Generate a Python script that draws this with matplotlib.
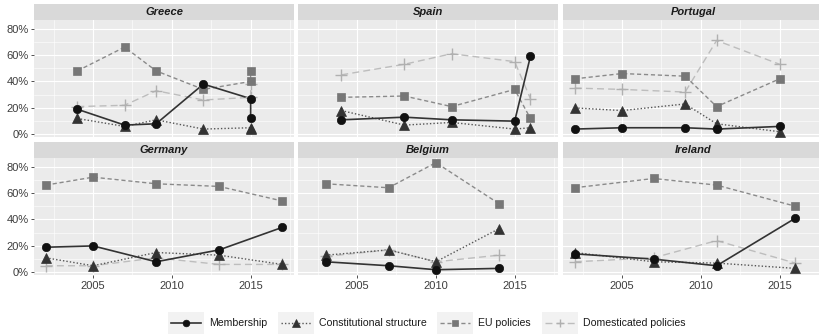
import numpy as np
import matplotlib.pyplot as plt
from matplotlib.lines import Line2D
from matplotlib.patches import Rectangle
from matplotlib.ticker import FixedLocator, FuncFormatter

plt.rcParams['font.family'] = ['Liberation Sans', 'DejaVu Sans']

#---------------- DADOS ----------------

countries = ['Greece', 'Spain', 'Portugal', 'Germany', 'Belgium', 'Ireland']

years = {
    'Greece':   [2004, 2007, 2009, 2012, 2015, 2015],
    'Spain':    [2004, 2008, 2011, 2015, 2016],
    'Portugal': [2002, 2005, 2009, 2011, 2015],
    'Germany':  [2002, 2005, 2009, 2013, 2017],
    'Belgium':  [2003, 2007, 2010, 2014],
    'Ireland':  [2002, 2007, 2011, 2016],
}

membership = {
    'Greece':   [19, 7, 8, 38, 27, 12],
    'Spain':    [11, 13, 11, 10, 59],
    'Portugal': [4, 5, 5, 4, 6],
    'Germany':  [19, 20, 8, 17, 34],
    'Belgium':  [8, 5, 2, 3],
    'Ireland':  [14, 10, 5, 41],
}

constitutional = {
    'Greece':   [12, 6, 11, 4, 5, 4],
    'Spain':    [18, 7, 9, 4, 5],
    'Portugal': [20, 18, 23, 8, 2],
    'Germany':  [11, 5, 15, 13, 6],
    'Belgium':  [13, 17, 8, 33],
    'Ireland':  [15, 8, 7, 3],
}

eu_policies = {
    'Greece':   [48, 66, 48, 34, 40, 48],
    'Spain':    [28, 29, 21, 34, 12],
    'Portugal': [42, 46, 44, 21, 42],
    'Germany':  [66, 72, 67, 65, 54],
    'Belgium':  [67, 64, 83, 52],
    'Ireland':  [64, 71, 66, 50],
}

domesticated = {
    'Greece':   [21, 22, 33, 26, 28, 38],
    'Spain':    [45, 53, 61, 55, 27],
    'Portugal': [35, 34, 32, 71, 53],
    'Germany':  [5, 5, 11, 6, 6],
    'Belgium':  [12, 17, 8, 13],
    'Ireland':  [8, 11, 24, 7],
}

# (rótulo, dados, estilo da linha, marcador, cor da linha, cor do marcador, tamanho)
series = [
    ('Domesticated policies', domesticated, (0, (5, 3)), '+', '#bdbdbd', '#b0b0b0', 8),
    ('EU policies', eu_policies, (0, (3, 2)), 's', '#8a8a8a', '#777777', 5.5),
    ('Constitutional structure', constitutional, (0, (1, 1.5)), '^', '#555555', '#333333', 6.5),
    ('Membership', membership, '-', 'o', '#333333', '#111111', 6),
]

#---------------- FIGURA ----------------

W, H = 819, 335
fig = plt.figure(figsize=(W / 100, H / 100), dpi=100)

col_left = [34, 298, 563]
row_top = [20, 158]
pw, ph, sh = 260, 117, 16

for i, country in enumerate(countries):
    r, c = divmod(i, 3)
    l, t = col_left[c], row_top[r]
    ax = fig.add_axes([l / W, 1 - (t + ph) / H, pw / W, ph / H])
    ax.set_facecolor('#ebebeb')
    for s in ax.spines.values():
        s.set_visible(False)

    ax.set_xlim(2001.25, 2017.75)
    ax.set_ylim(-2, 86.5)
    ax.xaxis.set_major_locator(FixedLocator([2005, 2010, 2015]))
    ax.xaxis.set_minor_locator(FixedLocator([2002.5, 2007.5, 2012.5, 2017.5]))
    ax.yaxis.set_major_locator(FixedLocator([0, 20, 40, 60, 80]))
    ax.yaxis.set_minor_locator(FixedLocator([10, 30, 50, 70]))
    ax.yaxis.set_major_formatter(FuncFormatter(lambda v, p: '%d%%' % v))
    ax.grid(which='major', color='white', lw=0.8)
    ax.grid(which='minor', color='white', lw=0.4)
    ax.set_axisbelow(True)
    ax.tick_params(which='minor', length=0)
    ax.tick_params(which='major', length=2.5, width=0.6, color='#333333',
                   labelsize=8, labelcolor='#3d3d3d', pad=1.5)
    if c != 0:
        ax.tick_params(axis='y', length=0, labelleft=False)
    if r != 1:
        ax.tick_params(axis='x', length=0, labelbottom=False)

    x = years[country]
    for label, data, ls, mk, lc, mc, ms in series:
        y = data[country]
        ax.plot(x, y, ls=ls, color=lc, lw=1.0 if mk != 'o' else 1.2, zorder=2)
        ax.plot(x, y, ls='none', marker=mk, ms=ms, mfc=mc, mec=mc,
                mew=1.0 if mk == '+' else 0.5, zorder=3)

    # faixa com o nome do país
    sax = fig.add_axes([l / W, 1 - t / H, pw / W, sh / H])
    sax.set_facecolor('#d9d9d9')
    sax.set_xticks([])
    sax.set_yticks([])
    for s in sax.spines.values():
        s.set_visible(False)
    sax.text(0.5, 0.5, country, ha='center', va='center', fontsize=8,
             fontweight='bold', fontstyle='italic', color='#1a1a1a',
             transform=sax.transAxes)

#---------------- LEGENDA ----------------

lax = fig.add_axes([0, 0, 1, 1])
lax.set_xlim(0, W)
lax.set_ylim(H, 0)
lax.axis('off')

legend_order = ['Membership', 'Constitutional structure', 'EU policies', 'Domesticated policies']
key_left = [168, 278, 437, 542]
style = {s[0]: s for s in series}
ky, kw, kh = 323, 36, 22
for name, kx in zip(legend_order, key_left):
    _, _, ls, mk, lc, mc, ms = style[name]
    lax.add_patch(Rectangle((kx, ky - kh / 2), kw, kh, facecolor='#f2f2f2', edgecolor='none'))
    lax.add_line(Line2D([kx + 3, kx + kw - 3], [ky, ky], ls=ls, color=lc,
                        lw=1.0 if mk != 'o' else 1.2))
    lax.add_line(Line2D([kx + kw / 2], [ky], ls='none', marker=mk, ms=ms * 0.8,
                        mfc=mc, mec=mc, mew=1.0 if mk == '+' else 0.5))
    lax.text(kx + kw + 5, ky, name, ha='left', va='center', fontsize=7.6, color='#1a1a1a')

fig.savefig('out.png', dpi=100)
